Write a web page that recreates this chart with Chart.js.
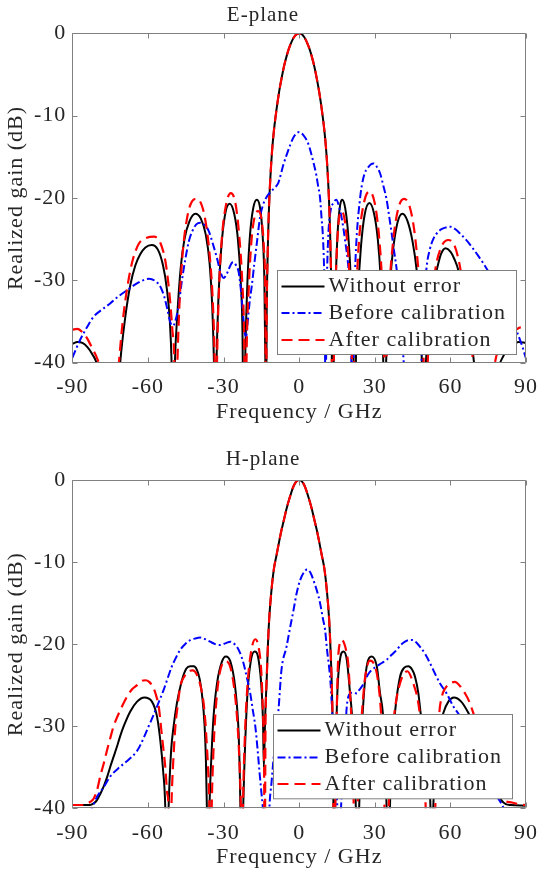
<!DOCTYPE html>
<html><head><meta charset="utf-8">
<script src="https://cdn.jsdelivr.net/npm/chart.js@4.4.0/dist/chart.umd.min.js"></script>
<style>
html,body{margin:0;padding:0;background:#fff;}
#wrap{position:relative;width:539px;height:873px;overflow:hidden;background:#fff;}
.box{position:absolute;left:0;width:539px;}
</style></head><body>
<div id="wrap">
<div class="box" style="top:0;height:430px"><canvas id="eChart"></canvas></div>
<div class="box" style="top:430px;height:443px"><canvas id="hChart"></canvas></div>
</div>
<script>
// ---------- data (frequency / GHz, realized gain / dB) ----------
const xTicks = [-90, -60, -30, 0, 30, 60, 90];
const yTicks = [0, -10, -20, -30, -40];
const seriesLabels = ['Without error', 'Before calibration', 'After calibration'];

const eWithoutError = [[-90,-37.7],[-88,-37.5],[-86,-37.6],[-84,-38.1],[-82,-39.0],[-80,-40.5],[-78.5,-44],[-75,-55],[-72.2,-45],[-71,-40],[-69,-34.5],[-67,-30.6],[-65,-28.2],[-63,-26.8],[-61,-26.0],[-58.5,-25.7],[-56,-26.3],[-54,-28.2],[-52.5,-31],[-51.3,-35],[-50.6,-40],[-50,-50],[-49.3,-40],[-48.3,-34],[-47,-28.5],[-45.5,-25],[-43.5,-22.8],[-41.2,-21.9],[-39,-22.5],[-37,-24.5],[-35.5,-28],[-34.5,-33],[-33.8,-40],[-33.3,-50],[-32.8,-40],[-32,-32],[-31,-26.5],[-29.5,-22.2],[-27.6,-20.7],[-25.7,-22],[-24.3,-25],[-23.2,-30],[-22.5,-36],[-22,-50],[-21.3,-38],[-20.5,-30],[-19.5,-24.5],[-18.2,-21.2],[-16.8,-20.2],[-15.5,-21.2],[-14.5,-24.5],[-13.8,-30],[-13.4,-40],[-13.15,-50],[-12.9,-35],[-12.5,-27],[-12,-21.5],[-11.5,-18],[-10.8,-14.5],[-10,-11.8],[-9,-9.3],[-8,-7.2],[-7,-5.5],[-6,-4.0],[-5,-2.8],[-4,-1.8],[-2,-0.45],[0,0],[2,-0.45],[4,-1.8],[5,-2.8],[6,-4.0],[7,-5.5],[8,-7.2],[9,-9.3],[10,-11.8],[10.8,-14.5],[11.5,-18],[12,-21.5],[12.5,-27],[12.9,-35],[13.15,-50],[13.8,-38],[14.5,-30],[15.3,-24],[16.2,-21],[17,-20.2],[18,-20.8],[19.2,-23.5],[20.2,-28],[21,-34],[21.6,-40],[22,-50],[22.5,-40],[23.3,-32],[24.5,-26],[26,-22],[27.9,-20.6],[29.8,-22],[31.2,-25],[32.3,-29.5],[33.2,-36],[33.8,-50],[34.5,-40],[35.5,-33],[37,-27],[39,-23],[41,-21.9],[43,-22.8],[45,-25.3],[46.6,-28.7],[47.8,-33],[48.7,-40],[49.3,-50],[50.3,-40],[51.5,-35],[53,-30.5],[54.6,-28.7],[56.3,-26.8],[58.1,-26.1],[60,-26.5],[61.7,-27.5],[63.1,-28.7],[65,-31.5],[67,-35],[69,-39],[70,-42],[73,-55],[77,-45],[79,-40.8],[81,-39.2],[83,-38.3],[85,-37.8],[87,-37.5],[90,-37.6]];

const eBeforeCalibration = [[-90,-39.4],[-87,-37.3],[-84,-35.6],[-81.5,-34.4],[-78,-33.5],[-75,-32.8],[-71.5,-31.9],[-68.3,-31.2],[-65,-30.5],[-62,-30],[-59.5,-29.8],[-57,-30.1],[-55,-30.8],[-53.5,-32],[-52.3,-33.5],[-51,-35.2],[-50,-35.5],[-49,-34.8],[-47.8,-33],[-46.5,-30],[-45.2,-27.5],[-43.8,-25.3],[-42.5,-24.1],[-40.8,-23.2],[-39.2,-23],[-37.5,-23.3],[-35.9,-24],[-34.3,-25.5],[-32.6,-27.3],[-31.2,-29],[-30,-29.7],[-29,-29.4],[-28,-28.7],[-26.8,-27.9],[-26,-27.8],[-25,-28.2],[-24,-29],[-23,-31.5],[-22.3,-34],[-21.5,-36.5],[-21,-36.8],[-20.4,-35],[-19.6,-32.5],[-18.8,-30.7],[-17.8,-28],[-16.8,-25.5],[-15.5,-22.3],[-14.5,-21],[-13.5,-20.2],[-11.5,-19.3],[-9.5,-18.7],[-8.3,-18.2],[-7.5,-17.4],[-6.3,-16],[-5,-14.8],[-3.6,-13.6],[-2,-12.5],[0,-12.0],[1.5,-12.3],[3.6,-13.4],[5.6,-15.6],[6.8,-17.2],[7.5,-18.5],[8.3,-20],[8.9,-22.5],[9.4,-24.5],[9.9,-28.7],[10.2,-34],[10.5,-50],[10.8,-34],[11.1,-28.7],[11.6,-24.3],[12.5,-21.5],[13.6,-20.6],[14.7,-20.2],[16.2,-21.5],[17.2,-23],[18.2,-25.1],[19.6,-28.7],[20.4,-33],[21.2,-50],[21.8,-33],[22.2,-28.7],[22.9,-24.3],[24,-20.5],[24.8,-18.6],[26,-17],[27.1,-16.4],[28.5,-15.9],[29.5,-15.8],[30.8,-16.2],[32.1,-17],[33.4,-18.5],[34.7,-20.2],[35.7,-22.2],[36.7,-24.3],[37.7,-26.5],[38.7,-28.7],[39.5,-31],[40.5,-35],[41.5,-40],[44,-50],[47,-45],[48.5,-40],[49.8,-31.5],[50.6,-28.3],[51.8,-26.3],[53.2,-25],[55.9,-23.9],[58,-23.6],[60.1,-23.5],[62,-23.8],[63.8,-24.3],[66,-25],[68.4,-25.9],[71,-27],[73,-27.9],[75.4,-29.1],[78,-30.5],[81,-32.5],[84,-34.5],[86.6,-36.4],[88.5,-38],[90,-39.5]];

const eAfterCalibration = [[-90,-36.0],[-88,-35.9],[-86,-36.3],[-84,-37.1],[-82,-38.3],[-80,-39.6],[-78.5,-41.5],[-76,-55],[-73,-46],[-71.5,-40],[-70,-35],[-68,-30.5],[-66,-27.5],[-63.5,-25.5],[-61,-24.9],[-57.5,-24.7],[-55,-25.5],[-53,-27.8],[-51.5,-31.5],[-50.3,-36],[-49.5,-40],[-49,-50],[-48.3,-40],[-47.5,-33],[-46.3,-27],[-44.5,-22.5],[-42.5,-20.4],[-40.6,-20.1],[-38.5,-21],[-36.8,-23.5],[-35.2,-28],[-34.2,-33],[-33.5,-40],[-33.1,-50],[-32.6,-40],[-31.8,-31],[-30.7,-25],[-29,-20.8],[-27.1,-19.4],[-25.3,-20.6],[-23.8,-24.5],[-22.6,-30],[-21.8,-37],[-21.3,-50],[-20.8,-38],[-20,-31],[-19,-25.5],[-17.6,-22.2],[-16.2,-21.6],[-15,-22.5],[-14,-26],[-13.4,-33],[-13.15,-50],[-12.9,-35],[-12.5,-27],[-12,-21.5],[-11.5,-18],[-10.8,-14.5],[-10,-11.8],[-9,-9.3],[-8,-7.2],[-7,-5.5],[-6,-4.0],[-5,-2.8],[-4,-1.8],[-2,-0.45],[0,0],[2,-0.45],[4,-1.8],[5,-2.8],[6,-4.0],[7,-5.5],[8,-7.2],[9,-9.3],[10,-11.8],[10.8,-14.5],[11.5,-18],[12,-21.5],[12.5,-27],[12.9,-35],[13.15,-50],[13.9,-37],[14.6,-29],[15.5,-23.5],[16.6,-21.6],[17.7,-22.1],[18.8,-24.5],[19.9,-29],[20.8,-36],[21.3,-50],[21.8,-40],[22.6,-32],[23.8,-25],[25.7,-20.6],[27.9,-19.2],[29.9,-20.5],[31.5,-24],[32.7,-29],[33.6,-36],[34,-50],[34.6,-40],[35.6,-32],[37.2,-25.5],[39.3,-21.3],[41.6,-20.1],[43.8,-21],[45.7,-24],[47.3,-28.7],[48.5,-33.5],[49.4,-40],[50,-50],[51,-40],[52.3,-33],[54,-28.7],[56.3,-26],[59.2,-25.1],[61.8,-25.9],[63.6,-28],[65.5,-31.5],[67.5,-36],[69,-40],[71,-50],[75,-48],[77.7,-40],[80,-38],[83,-36.8],[86,-36],[88,-35.7],[90,-35.8]];

const hWithoutError = [[-90,-39.6],[-86,-39.6],[-83,-39.6],[-81.5,-39.4],[-80.2,-39],[-78.8,-38.2],[-77.5,-37.3],[-76.2,-36.2],[-74.9,-34.9],[-73.6,-33.7],[-72.3,-32.5],[-71,-31.2],[-69.6,-30],[-67,-28.2],[-64.3,-27],[-61.4,-26.5],[-58.4,-27],[-56.4,-28.8],[-55.1,-31.7],[-54,-35.3],[-53.1,-40],[-52.5,-50],[-51.8,-40],[-50.8,-33],[-49.8,-30],[-48.5,-27.2],[-46.5,-24.4],[-44.8,-23],[-43.2,-22.7],[-41.8,-22.7],[-40.6,-23.1],[-39.5,-24.2],[-38.6,-26],[-37.5,-30],[-37,-34],[-36.6,-40],[-36.2,-50],[-35.6,-40],[-34.7,-33],[-34,-29],[-32.6,-24.8],[-30.6,-22.1],[-29.1,-21.5],[-27.3,-22.1],[-25.4,-25.2],[-24,-30.9],[-23.6,-35],[-23.3,-40],[-22.8,-50],[-22.2,-40],[-21.4,-32],[-20.5,-26],[-19.2,-22.1],[-17.7,-20.9],[-16.1,-21.9],[-14.8,-26],[-14.3,-30],[-14,-35],[-13.5,-29],[-12.9,-24.5],[-12.5,-21],[-11.9,-17],[-11,-13.5],[-10,-10.8],[-9,-9.2],[-8,-7.6],[-7,-6.1],[-6,-4.8],[-5,-3.5],[-4,-2.4],[-2,-0.6],[0,0],[2,-0.6],[4,-2.4],[5,-3.5],[6,-4.8],[7,-6.1],[8,-7.6],[9,-9.2],[10,-10.8],[11,-13.5],[11.9,-17],[12.5,-21],[12.9,-24.5],[13.3,-30],[13.6,-40],[13.9,-50],[14.3,-40],[14.9,-28.4],[16.2,-21.9],[17.6,-20.9],[18.9,-21.9],[20.2,-26],[20.9,-28.4],[21.7,-33],[22.5,-40],[23,-50],[23.8,-40],[24.5,-33],[25.2,-28.4],[26.8,-22.7],[28.8,-21.5],[30.8,-22.7],[32.1,-26],[33.2,-28.4],[34,-33],[34.7,-40],[35.2,-50],[36,-40],[37,-32.5],[38,-28.4],[40,-24],[41.6,-22.9],[43.3,-22.7],[44.8,-23.1],[46,-24],[47.3,-26],[48.2,-28.4],[49.5,-31],[51,-35.5],[52.1,-40],[52.5,-50],[53.2,-40],[54.2,-35],[55.5,-31],[57.2,-28.4],[59.2,-27],[61.4,-26.5],[64.3,-27],[67,-28.3],[69.6,-30],[72.3,-32.5],[74.9,-34.9],[77.5,-37.4],[80.2,-39],[82,-39.5],[84,-39.6],[90,-39.7]];

const hBeforeCalibration = [[-90,-44],[-85,-42],[-82.2,-40],[-80.2,-38.6],[-77.5,-37.4],[-74.9,-36.1],[-70.9,-34.9],[-68.5,-34.3],[-66.3,-33.7],[-64.5,-33.1],[-63,-32.3],[-61.5,-31.3],[-59.7,-30],[-58,-28.8],[-56.4,-27.6],[-53.8,-25.6],[-52,-24],[-50.5,-22.7],[-48.8,-21.6],[-47.2,-20.7],[-45.2,-20],[-43.2,-19.5],[-41.2,-19.3],[-39.2,-19.2],[-37.2,-19.4],[-35.3,-19.7],[-33.3,-20],[-31.3,-20.1],[-29.3,-19.9],[-27.3,-19.7],[-26,-19.9],[-24.7,-20.3],[-23.4,-21.1],[-22.1,-22.3],[-20.8,-24],[-19.4,-26],[-18.4,-28],[-17.4,-30],[-16.5,-32.8],[-15.7,-35.7],[-15,-38],[-14.4,-40],[-13.2,-48],[-12.5,-48],[-11.8,-40],[-11,-37],[-10.2,-34.1],[-9.2,-31],[-8.2,-28],[-7,-23.1],[-5,-20.3],[-3.6,-18],[-2.2,-15.8],[-1,-13.8],[0.4,-12.2],[2,-11.2],[3.2,-10.9],[4.5,-11.3],[6,-12.5],[7.7,-14.2],[8.3,-15],[9.5,-17],[10.3,-18.3],[11,-20.5],[12.4,-24.5],[13.6,-31],[14.9,-38],[15.9,-45],[16.6,-40],[17.6,-34.1],[18.3,-30.5],[18.9,-27.6],[19.5,-26.4],[20.2,-26],[21.5,-25.9],[22.9,-26],[23.8,-25.6],[24.8,-25.2],[26.2,-24.4],[27.5,-23.6],[29,-23.1],[30.8,-22.7],[32.8,-22.3],[34.7,-21.9],[36.7,-21.3],[38.7,-20.7],[40.3,-20.1],[42,-19.7],[43.5,-19.5],[45,-19.5],[46.5,-19.8],[47.9,-20.3],[50,-21.2],[51.9,-22.3],[53.9,-23.6],[55.9,-24.8],[58.5,-26],[61.2,-27.6],[63.8,-28.8],[66,-30.5],[68.5,-32.5],[71,-34.5],[73.5,-36.2],[76,-37.5],[78.3,-38.5],[79.8,-39.2],[81.1,-40],[83,-42],[90,-45]];

const hAfterCalibration = [[-90,-39.6],[-86,-39.6],[-84,-39.4],[-82.8,-39.2],[-81.5,-38.8],[-80.2,-37.8],[-78.9,-36.1],[-77.5,-34.5],[-76.2,-32.9],[-74.9,-31.4],[-73.6,-30],[-70.9,-28],[-68.3,-26.4],[-66.3,-25.5],[-64.3,-25],[-62.5,-24.5],[-61,-24.4],[-59.5,-24.6],[-57.7,-25.4],[-56.7,-26.3],[-55.7,-27.6],[-55,-29.5],[-54.4,-31.3],[-53.7,-33.2],[-53.1,-35],[-52.4,-38],[-51.8,-40],[-51.3,-50],[-50.7,-40],[-49.9,-34],[-49.1,-30],[-48.2,-27.5],[-47.2,-25.2],[-45.5,-23.9],[-43.9,-23.3],[-42.2,-23.2],[-40.6,-23.7],[-39.2,-25],[-37.9,-27.2],[-37.2,-29.5],[-36.6,-32.5],[-36,-36],[-35.6,-40],[-35.2,-50],[-34.7,-40],[-34,-33],[-33,-27.5],[-31.5,-23.5],[-29.3,-22.1],[-27.3,-22.8],[-25.6,-25.8],[-24.4,-30],[-23.6,-35],[-23.1,-40],[-22.7,-50],[-22.3,-40],[-21.5,-31],[-20.5,-25],[-19,-20.8],[-17.4,-19.4],[-16,-20.5],[-15,-23.5],[-14.3,-29],[-13.9,-35],[-13.7,-50],[-13.35,-30],[-12.9,-24.5],[-12.5,-21],[-11.9,-17],[-11,-13.5],[-10,-10.8],[-9,-9.2],[-8,-7.6],[-7,-6.1],[-6,-4.8],[-5,-3.5],[-4,-2.4],[-2,-0.6],[0,0],[2,-0.6],[4,-2.4],[5,-3.5],[6,-4.8],[7,-6.1],[8,-7.6],[9,-9.2],[10,-10.8],[11,-13.5],[11.9,-17],[12.5,-21],[12.9,-24.5],[13.3,-30],[13.6,-40],[13.9,-50],[14.3,-40],[14.8,-30],[15.6,-21.1],[16.9,-19.5],[18.6,-20.7],[19.5,-22.5],[20.2,-26],[21,-31],[21.5,-36],[22,-50],[23.2,-40],[24.2,-32],[25,-28],[26.2,-24],[28.1,-22],[30.1,-22.7],[31.2,-24.3],[32.1,-26.8],[33,-31],[33.7,-36],[34.2,-50],[35.5,-40],[36.5,-33],[37.8,-28.4],[40,-24.8],[42.9,-23.3],[45.3,-24.8],[47.3,-27.2],[48.5,-30.5],[49.5,-35],[50.2,-40],[50.8,-50],[53,-50],[54,-40],[54.8,-33],[55.6,-28.4],[56.7,-26.3],[57.9,-25.4],[59.8,-24.8],[61.8,-24.6],[63.8,-25.1],[65.8,-26],[67.5,-27],[69.1,-28.4],[71,-30.2],[73,-32.5],[75,-34.8],[77,-36.8],[79,-38.2],[81,-39],[84.5,-39.3],[87,-39.5],[90,-39.6]];

// ---------- styling ----------
const FONT = '"Liberation Serif", "Times New Roman", serif';
const TEXT = '#262626';
const FRAME = '#808080';
const seriesColors = ['#000000', '#0000ff', '#ff0000'];
const seriesWidths = [2, 2, 2.2];
const seriesDashes = [[], [8, 3, 2, 3], [11, 6]];

const framePlugin = {
  id: 'frameLegend',
  beforeLayout(chart) { chart.ctx.letterSpacing = '1px'; },
  beforeDraw(chart) { chart.ctx.letterSpacing = '1px'; },
  afterDatasetsDraw(chart, args, opts) {
    const {ctx, chartArea: a, scales: {x, y}} = chart;
    ctx.save();
    ctx.letterSpacing = '1px';
    ctx.strokeStyle = FRAME;
    ctx.lineWidth = 1;
    const L = Math.round(a.left) + 0.5, R = Math.round(a.right) - 0.5;
    const T = Math.round(a.top) + 0.5, B = Math.round(a.bottom) - 0.5;
    ctx.beginPath();
    ctx.rect(L, T, R - L, B - T);
    const tl = 5;
    xTicks.forEach(v => {
      const px = Math.round(x.getPixelForValue(v)) + 0.5;
      ctx.moveTo(px, B); ctx.lineTo(px, B - tl);
      ctx.moveTo(px, T); ctx.lineTo(px, T + tl);
    });
    yTicks.forEach(v => {
      const py = Math.round(y.getPixelForValue(v)) + 0.5;
      ctx.moveTo(L, py); ctx.lineTo(L + tl, py);
      ctx.moveTo(R, py); ctx.lineTo(R - tl, py);
    });
    ctx.stroke();

    // legend box
    const bx = Math.round(a.right - opts.rightGap - opts.w) + 0.5;
    const by = Math.round(a.bottom - opts.bottomGap - opts.h) + 0.5;
    ctx.fillStyle = '#ffffff';
    ctx.fillRect(bx, by, opts.w, opts.h);
    ctx.strokeStyle = FRAME;
    ctx.setLineDash([]);
    ctx.strokeRect(bx, by, opts.w, opts.h);
    chart.data.datasets.forEach((ds, i) => {
      const ry = by + opts.rows[i];
      ctx.save();
      ctx.strokeStyle = ds.borderColor;
      ctx.lineWidth = ds.borderWidth;
      ctx.setLineDash(ds.borderDash || []);
      ctx.beginPath();
      ctx.moveTo(bx + 4, ry); ctx.lineTo(bx + 47, ry);
      ctx.stroke();
      ctx.restore();
      ctx.fillStyle = TEXT;
      ctx.font = '22px ' + FONT;
      ctx.textBaseline = 'middle';
      ctx.textAlign = 'left';
      ctx.fillText(ds.label, bx + 51, ry);
    });
    ctx.restore();
  }
};

function buildChart(id, titleText, series, P) {
  return new Chart(document.getElementById(id), {
    type: 'line',
    data: {
      datasets: series.map((s, i) => ({
        label: seriesLabels[i],
        data: s.map(p => ({x: p[0], y: p[1]})),
        borderColor: seriesColors[i],
        backgroundColor: seriesColors[i],
        borderWidth: seriesWidths[i],
        borderDash: seriesDashes[i],
        pointRadius: 0,
        pointHoverRadius: 0,
        fill: false,
        cubicInterpolationMode: 'monotone',
        order: 2 - i
      }))
    },
    options: {
      responsive: true,
      maintainAspectRatio: false,
      animation: false,
      devicePixelRatio: 1,
      events: [],
      layout: {padding: {left: 0, right: 13, top: 0, bottom: 0}},
      plugins: {
        legend: {display: false},
        tooltip: {enabled: false},
        title: {display: true, text: titleText, color: TEXT,
                font: {family: FONT, size: 21, weight: 'normal'},
                padding: {top: P.titleTop, bottom: P.titleBottom}},
        frameLegend: P.legend
      },
      scales: {
        x: {
          type: 'linear', min: -90, max: 90,
          grid: {display: false, drawTicks: false}, border: {display: false},
          afterBuildTicks: s => { s.ticks = xTicks.map(v => ({value: v})); },
          afterFit: s => { s.height = P.xHeight; s.paddingLeft = 0; s.paddingRight = 0; },
          ticks: {autoSkip: false, maxRotation: 0, minRotation: 0, padding: P.xTickPad, color: TEXT,
                  font: {family: FONT, size: 22}, callback: v => String(v)},
          title: {display: true, text: 'Frequency / GHz', color: TEXT,
                  font: {family: FONT, size: 22}, padding: {top: 0, bottom: P.xTitleBottom}}
        },
        y: {
          type: 'linear', min: -40, max: 0,
          grid: {display: false, drawTicks: false}, border: {display: false},
          afterBuildTicks: s => { s.ticks = yTicks.map(v => ({value: v})); },
          afterFit: s => { s.width = 72.3; s.paddingTop = 0; s.paddingBottom = 0; },
          ticks: {padding: 6, color: TEXT, font: {family: FONT, size: 22}, callback: v => String(v)},
          title: {display: true, text: 'Realized gain (dB)', color: TEXT,
                  font: {family: FONT, size: 22}, padding: {top: 3, bottom: 0}}
        }
      }
    },
    plugins: [framePlugin]
  });
}

// title box heights: 21px * 1.2 = 25.2 line height
buildChart('eChart', 'E-plane', [eWithoutError, eBeforeCalibration, eAfterCalibration], {
  titleTop: 2.9, titleBottom: 5.2, xHeight: 67.3, xTickPad: 11.6, xTitleBottom: 4.8,
  legend: {rightGap: 10.3, bottomGap: 8.7, w: 239, h: 84, rows: [16, 42.5, 69.5]}
});
buildChart('hChart', 'H-plane', [hWithoutError, hBeforeCalibration, hAfterCalibration], {
  titleTop: 16.4, titleBottom: 8.4, xHeight: 64.7, xTickPad: 12, xTitleBottom: 2.8,
  legend: {rightGap: 13.7, bottomGap: 10, w: 239, h: 84.3, rows: [16, 43, 69.5]}
});
</script>
</body></html>
